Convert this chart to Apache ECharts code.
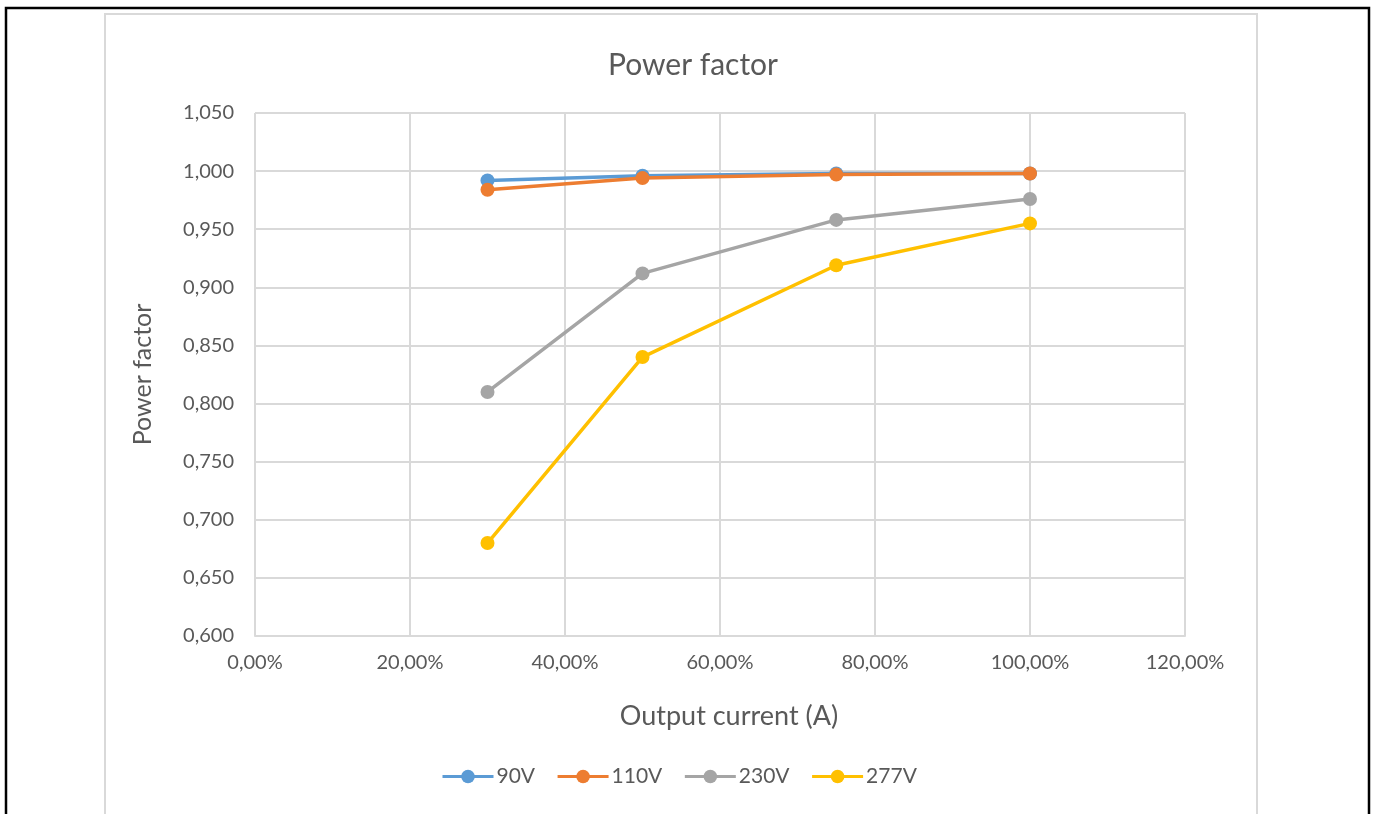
<!DOCTYPE html>
<html>
<head>
<meta charset="utf-8">
<script src="https://cdn.jsdelivr.net/npm/echarts@6/dist/echarts.min.js"></script>
<style>
html,body{margin:0;padding:0;background:#fff;}
#chart{width:1375px;height:814px;}
</style>
</head>
<body>
<div id="chart"></div>
<script>
const xValues = [0.30, 0.50, 0.75, 1.00];
const seriesNames = ['90V', '110V', '230V', '277V'];
const v90 = [0.992, 0.996, 0.998, 0.998];
const v110 = [0.984, 0.994, 0.997, 0.998];
const v230 = [0.810, 0.912, 0.958, 0.976];
const v277 = [0.680, 0.840, 0.919, 0.955];
const colors = ['#5B9BD5', '#ED7D31', '#A5A5A5', '#FFC000'];
const titleText = 'Power factor';
const xName = 'Output current (A)';
const yName = 'Power factor';

const allValues = [v90, v110, v230, v277];
const FONT = 'Lato';
const TXT = '#595959';

const chart = echarts.init(document.getElementById('chart'), null, {renderer: 'canvas'});
chart.setOption({
  animation: false,
  backgroundColor: '#fff',
  textStyle: {fontFamily: FONT},
  graphic: [
    {type: 'polyline', z: -10, silent: true,
     shape: {points: [[6, 814], [6, 8], [1369, 8], [1369, 814]]},
     style: {stroke: '#000', lineWidth: 2.5, fill: null}},
    {type: 'polyline', z: -9, silent: true,
     shape: {points: [[105, 814], [105, 14], [1257, 14], [1257, 814]]},
     style: {stroke: '#d9d9d9', lineWidth: 2, fill: null}},
    {type: 'text', x: 693, y: 65, silent: true,
     style: {text: titleText, fill: TXT, font: '30px Lato', textAlign: 'center', textVerticalAlign: 'middle'}}
  ],
  legend: {
    left: 436, top: 761,
    itemWidth: 51, itemHeight: 17, itemGap: 21,
    lineStyle: {width: 3},
    textStyle: {color: TXT, fontSize: 21, fontFamily: FONT, padding: [0, 0, 0, -2]},
    data: seriesNames
  },
  grid: {left: 255, right: 190, top: 113, bottom: 178, containLabel: false},
  xAxis: {
    type: 'value', min: 0, max: 1.2, interval: 0.2,
    name: xName, nameLocation: 'middle', nameGap: 67,
    nameTextStyle: {color: TXT, fontSize: 27, fontFamily: FONT, padding: [0, 0, 0, 18]},
    axisLine: {show: true, lineStyle: {color: '#d9d9d9', width: 2}},
    axisTick: {show: false},
    splitLine: {show: true, lineStyle: {color: '#d9d9d9', width: 2}},
    axisLabel: {color: TXT, fontSize: 20, fontFamily: FONT, margin: 17,
      formatter: v => (v * 100).toFixed(2).replace('.', ',') + '%'}
  },
  yAxis: {
    type: 'value', min: 0.6, max: 1.05, interval: 0.05,
    name: yName, nameLocation: 'middle', nameGap: 100, nameRotate: 90,
    nameTextStyle: {color: TXT, fontSize: 25, fontFamily: FONT},
    axisLine: {show: false},
    axisTick: {show: false},
    splitLine: {show: true, lineStyle: {color: '#d9d9d9', width: 2}},
    axisLabel: {color: TXT, fontSize: 20, fontFamily: FONT, margin: 21,
      formatter: v => v.toFixed(3).replace('.', ',')}
  },
  series: seriesNames.map((n, i) => ({
    name: n, type: 'line',
    data: xValues.map((x, j) => [x, allValues[i][j]]),
    symbol: 'circle', symbolSize: 14,
    lineStyle: {color: colors[i], width: 3.5},
    itemStyle: {color: colors[i]},
    z: 10 + i
  }))
});
</script>
</body>
</html>
